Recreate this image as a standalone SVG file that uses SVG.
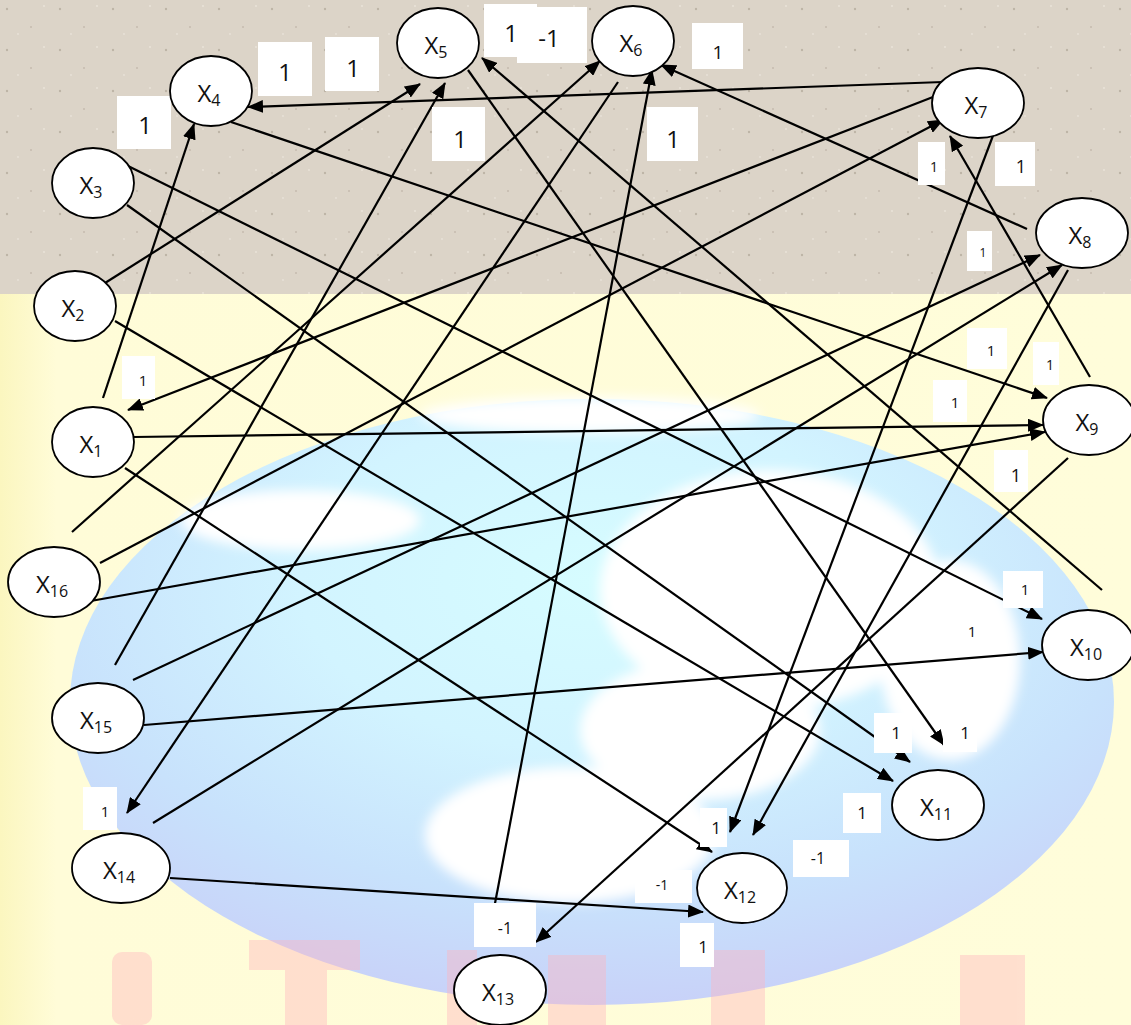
<svg xmlns="http://www.w3.org/2000/svg" width="1131" height="1025" viewBox="0 0 1131 1025">
<style>
.n ellipse{fill:#fff;stroke:#000;stroke-width:1.8}
.nl{font-family:"Open Sans","Liberation Sans",sans-serif;font-size:24px;fill:#111;text-anchor:middle}
.sub{font-size:16px}
#edges line{stroke:#000;stroke-width:2.2;fill:none;marker-end:url(#ah)}
.lb rect{fill:#fff}
.lb text{font-family:"Open Sans","Liberation Sans",sans-serif;fill:#111;text-anchor:middle}
</style>
<defs>
<marker id="ah" markerUnits="userSpaceOnUse" markerWidth="16" markerHeight="13" refX="15" refY="6.5" orient="auto">
<path d="M0,0 L16,6.5 L0,13 z" fill="#000"/>
</marker>
<radialGradient id="globe" cx="0.5" cy="0.3" r="0.8">
<stop offset="0" stop-color="#d6fcff"/>
<stop offset="0.35" stop-color="#d2f4ff"/>
<stop offset="0.65" stop-color="#c8e2fc"/>
<stop offset="0.9" stop-color="#c8d0f8"/>
<stop offset="1" stop-color="#c6c8f8"/>
</radialGradient>
<linearGradient id="yel" x1="0" y1="0" x2="1" y2="0">
<stop offset="0" stop-color="#fbf6bf"/>
<stop offset="0.05" stop-color="#fffcd8"/>
<stop offset="1" stop-color="#fffdda"/>
</linearGradient>
<pattern id="speck" width="53" height="41" patternUnits="userSpaceOnUse">
<circle cx="7" cy="9" r="1.2" fill="#a99f90" opacity="0.6"/>
<circle cx="31" cy="27" r="1" fill="#b5ab9c" opacity="0.6"/>
<circle cx="44" cy="6" r="0.9" fill="#efe9df" opacity="0.8"/>
<circle cx="18" cy="34" r="0.9" fill="#efe9df" opacity="0.7"/>
</pattern>
<filter id="soft" x="-20%" y="-20%" width="140%" height="140%"><feGaussianBlur stdDeviation="6"/></filter>
</defs>

<g id="background">
<rect x="0" y="294" width="1131" height="731" fill="url(#yel)"/>
<ellipse cx="592" cy="702" rx="522" ry="303" fill="url(#globe)"/>
<g fill="#fff" filter="url(#soft)">
<ellipse cx="770" cy="590" rx="170" ry="120"/>
<ellipse cx="950" cy="660" rx="70" ry="100"/>
<ellipse cx="570" cy="835" rx="145" ry="68"/>
<ellipse cx="700" cy="730" rx="120" ry="70"/>
<ellipse cx="300" cy="520" rx="120" ry="30"/>
<ellipse cx="590" cy="415" rx="170" ry="18"/>
</g>
<g fill="#ffb4be" opacity="0.4">
<rect x="112" y="952" width="40" height="73" rx="10"/>
<rect x="249" y="940" width="111" height="30"/>
<rect x="285" y="940" width="42" height="85"/>
<rect x="447" y="950" width="30" height="75"/>
<rect x="548" y="955" width="58" height="70"/>
<rect x="711" y="950" width="54" height="75"/>
<rect x="960" y="955" width="65" height="70"/>
</g>
<rect x="0" y="0" width="1131" height="294" fill="#dcd4c8"/>
<rect x="0" y="0" width="1131" height="294" fill="url(#speck)"/>
</g>

<g id="edges">
<line x1="943" y1="82" x2="248" y2="107"/>
<line x1="103" y1="398" x2="194" y2="124"/>
<line x1="231" y1="122" x2="1047" y2="398"/>
<line x1="122" y1="163" x2="1042" y2="619"/>
<line x1="127" y1="205" x2="910" y2="762"/>
<line x1="105" y1="283" x2="420" y2="84"/>
<line x1="115" y1="321" x2="893" y2="781"/>
<line x1="933" y1="97" x2="128" y2="410"/>
<line x1="134" y1="437" x2="1043" y2="425"/>
<line x1="125" y1="468" x2="712" y2="852"/>
<line x1="468" y1="70" x2="944" y2="745"/>
<line x1="1102" y1="590" x2="482" y2="58"/>
<line x1="618" y1="82" x2="127" y2="813"/>
<line x1="490" y1="930" x2="652" y2="70"/>
<line x1="1027" y1="229" x2="661" y2="65"/>
<line x1="72" y1="532" x2="600" y2="61"/>
<line x1="100" y1="563" x2="943" y2="120"/>
<line x1="1090" y1="377" x2="950" y2="136"/>
<line x1="994" y1="133" x2="730" y2="832"/>
<line x1="1068" y1="270" x2="753" y2="835"/>
<line x1="133" y1="680" x2="1040" y2="255"/>
<line x1="153" y1="823" x2="1062" y2="265"/>
<line x1="85" y1="602" x2="1045" y2="432"/>
<line x1="1068" y1="458" x2="536" y2="942"/>
<line x1="115" y1="665" x2="445" y2="83"/>
<line x1="144" y1="725" x2="1043" y2="652"/>
<line x1="170" y1="878" x2="703" y2="912"/>
</g>

<g id="labels" class="lb">
<rect x="258" y="42" width="54" height="54"/><text x="285" y="81" font-size="24">1</text>
<rect x="325" y="37" width="54" height="54"/><text x="353" y="77" font-size="24">1</text>
<rect x="117" y="96" width="54" height="53"/><text x="145" y="134" font-size="24">1</text>
<rect x="484" y="4" width="53" height="53"/><text x="511" y="42" font-size="24">1</text>
<rect x="517" y="7" width="70" height="56"/><text x="549" y="47" font-size="24">-1</text>
<rect x="432" y="107" width="53" height="54"/><text x="460" y="148" font-size="24">1</text>
<rect x="647" y="107" width="51" height="54"/><text x="673" y="148" font-size="24">1</text>
<rect x="692" y="23" width="51" height="46"/><text x="718" y="59" font-size="19">1</text>
<rect x="918" y="142" width="27" height="43"/><text x="934" y="172" font-size="14">1</text>
<rect x="995" y="142" width="40" height="44"/><text x="1021" y="173" font-size="18">1</text>
<rect x="967" y="231" width="25" height="40"/><text x="983" y="257" font-size="12">1</text>
<rect x="967" y="328" width="40" height="41"/><text x="991" y="356" font-size="15">1</text>
<rect x="1033" y="342" width="26" height="43"/><text x="1050" y="370" font-size="14">1</text>
<rect x="933" y="380" width="34" height="42"/><text x="955" y="408" font-size="15">1</text>
<rect x="994" y="450" width="34" height="42"/><text x="1016" y="482" font-size="18">1</text>
<rect x="122" y="356" width="33" height="43"/><text x="143" y="386" font-size="15">1</text>
<rect x="1003" y="571" width="40" height="37"/><text x="1025" y="595" font-size="15">1</text>
<rect x="955" y="614" width="34" height="36"/><text x="972" y="637" font-size="15">1</text>
<rect x="83" y="787" width="34" height="43"/><text x="105" y="817" font-size="15">1</text>
<rect x="874" y="713" width="38" height="40"/><text x="896" y="739" font-size="17">1</text>
<rect x="943" y="708" width="34" height="44"/><text x="965" y="739" font-size="17">1</text>
<rect x="843" y="793" width="38" height="40"/><text x="862" y="819" font-size="17">1</text>
<rect x="700" y="808" width="27" height="39"/><text x="716" y="834" font-size="17">1</text>
<rect x="793" y="840" width="56" height="37"/><text x="818" y="864" font-size="16">-1</text>
<rect x="635" y="870" width="57" height="33"/><text x="662" y="890" font-size="14">-1</text>
<rect x="680" y="923" width="34" height="44"/><text x="703" y="953" font-size="17">1</text>
<rect x="474" y="903" width="62" height="44"/><text x="505" y="934" font-size="16">-1</text>
</g>

<g id="X1" class="n"><ellipse cx="93" cy="442" rx="41" ry="35"/><text class="nl" x="91" y="453">X<tspan class="sub" dy="4">1</tspan></text></g>
<g id="X2" class="n"><ellipse cx="75" cy="306" rx="41" ry="35"/><text class="nl" x="73" y="317">X<tspan class="sub" dy="4">2</tspan></text></g>
<g id="X3" class="n"><ellipse cx="93" cy="183" rx="41" ry="35"/><text class="nl" x="91" y="194">X<tspan class="sub" dy="4">3</tspan></text></g>
<g id="X4" class="n"><ellipse cx="211" cy="91" rx="41" ry="35"/><text class="nl" x="209" y="102">X<tspan class="sub" dy="4">4</tspan></text></g>
<g id="X5" class="n"><ellipse cx="438" cy="43" rx="41" ry="35"/><text class="nl" x="436" y="54">X<tspan class="sub" dy="4">5</tspan></text></g>
<g id="X6" class="n"><ellipse cx="633" cy="41" rx="41" ry="35"/><text class="nl" x="631" y="52">X<tspan class="sub" dy="4">6</tspan></text></g>
<g id="X7" class="n"><ellipse cx="978" cy="103" rx="46" ry="35"/><text class="nl" x="976" y="114">X<tspan class="sub" dy="4">7</tspan></text></g>
<g id="X8" class="n"><ellipse cx="1082" cy="233" rx="46" ry="35"/><text class="nl" x="1080" y="244">X<tspan class="sub" dy="4">8</tspan></text></g>
<g id="X9" class="n"><ellipse cx="1089" cy="420" rx="46" ry="35"/><text class="nl" x="1087" y="431">X<tspan class="sub" dy="4">9</tspan></text></g>
<g id="X10" class="n"><ellipse cx="1088" cy="645" rx="46" ry="35"/><text class="nl" x="1086" y="656">X<tspan class="sub" dy="4">10</tspan></text></g>
<g id="X11" class="n"><ellipse cx="938" cy="805" rx="46" ry="35"/><text class="nl" x="936" y="816">X<tspan class="sub" dy="4">11</tspan></text></g>
<g id="X12" class="n"><ellipse cx="742" cy="888" rx="45" ry="35"/><text class="nl" x="740" y="899">X<tspan class="sub" dy="4">12</tspan></text></g>
<g id="X13" class="n"><ellipse cx="500" cy="990" rx="46" ry="35"/><text class="nl" x="498" y="1001">X<tspan class="sub" dy="4">13</tspan></text></g>
<g id="X14" class="n"><ellipse cx="121" cy="868" rx="49" ry="35"/><text class="nl" x="119" y="879">X<tspan class="sub" dy="4">14</tspan></text></g>
<g id="X15" class="n"><ellipse cx="98" cy="718" rx="46" ry="35"/><text class="nl" x="96" y="729">X<tspan class="sub" dy="4">15</tspan></text></g>
<g id="X16" class="n"><ellipse cx="54" cy="582" rx="46" ry="35"/><text class="nl" x="52" y="593">X<tspan class="sub" dy="4">16</tspan></text></g>
</svg>
